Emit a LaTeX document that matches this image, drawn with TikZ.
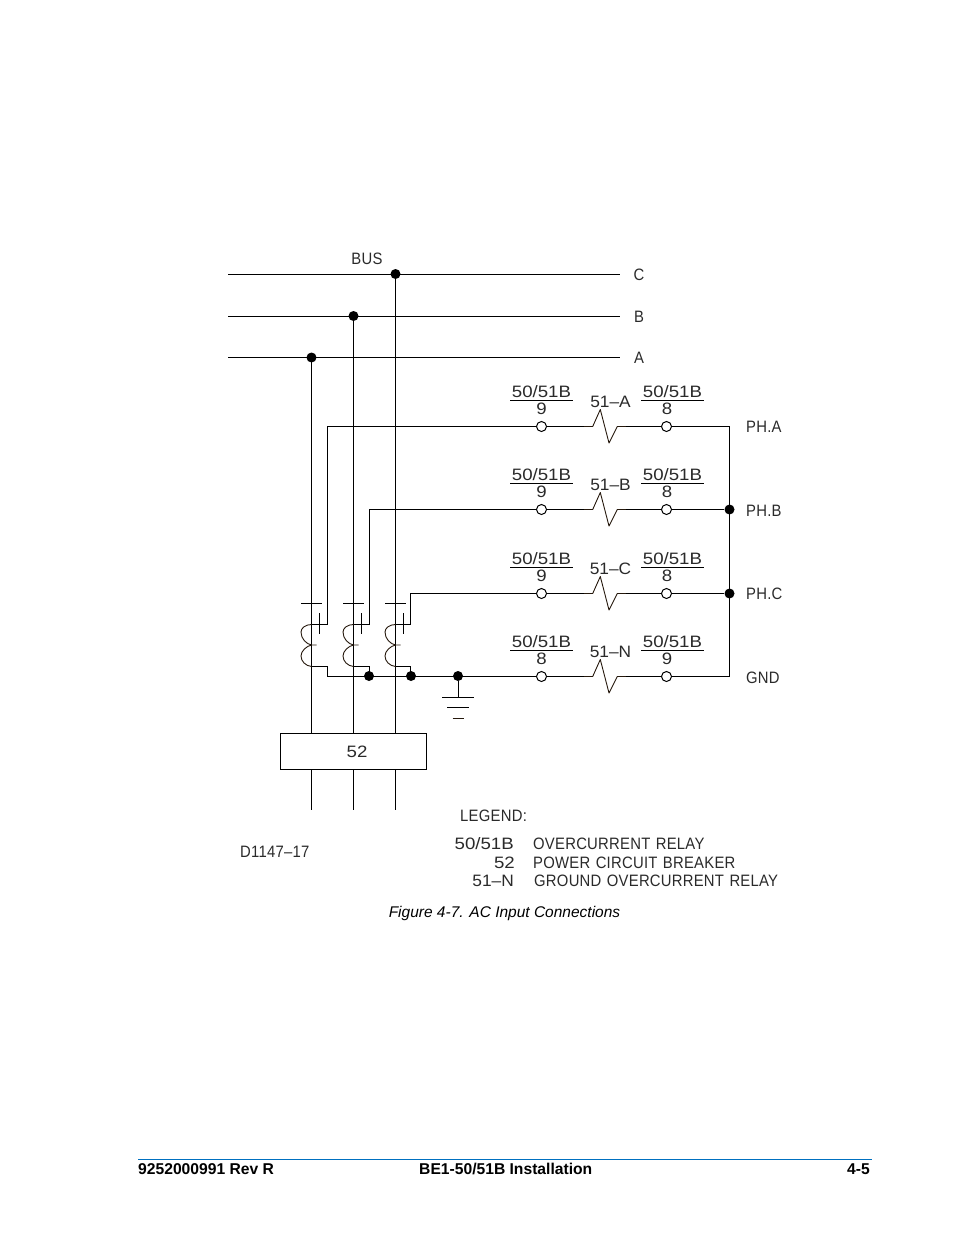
\documentclass[tikz,border=0pt]{standalone}
\usepackage{fontspec}
\setmainfont{Liberation Sans}
\newfontfamily\cadfont[FakeStretch=0.9,WordSpace=1.25,LetterSpace=1.5]{Liberation Sans}
\newfontfamily\cadnum[FakeStretch=1.13]{Liberation Sans}
\newfontfamily\cadmid[FakeStretch=1.05]{Liberation Sans}
\usetikzlibrary{calc}
\definecolor{footblue}{HTML}{0070C0}
\definecolor{cadtext}{HTML}{2A2A2A}
\tikzset{
  wire/.style={line width=1pt,black},
  coilline/.style={line width=0.9pt,color=black!80!brown,line join=round},
  dot/.style={circle,fill=black,inner sep=0pt,minimum size=10pt},
  term/.style={circle,draw=black,fill=white,line width=1pt,inner sep=0pt,minimum size=10pt},
  cad/.style={inner sep=0pt,anchor=base,text=cadtext,font=\cadfont\fontsize{16.5}{18}\selectfont},
  cadn/.style={cad,font=\cadnum\fontsize{16.5}{18}\selectfont},
  cadm/.style={cad,font=\cadmid\fontsize{16.5}{18}\selectfont},
  cadl/.style={cad,anchor=base west},
  cadr/.style={cadn,anchor=base east},
  foot/.style={inner sep=0pt,font=\bfseries\fontsize{15.65}{17}\selectfont},
}
\begin{document}
\begin{tikzpicture}[x=1pt,y=-1pt]
\useasboundingbox (0,0) rectangle (954,1235);
% buses
\coordinate (cL) at (228,274.5); \coordinate (cR) at (620,274.5);
\coordinate (bL) at (228,316.5); \coordinate (bR) at (620,316.5);
\coordinate (aL) at (228,357.5); \coordinate (aR) at (620,357.5);
\draw[wire] (cL)--(cR); \draw[wire] (bL)--(bR); \draw[wire] (aL)--(aR);
\node[dot] (dC) at (395.5,274) {};
\node[dot] (dB) at (353.5,316) {};
\node[dot] (dA) at (311.5,357.5) {};
\node[cad] (tBUS) at (367,264) {BUS};
\node[cad] (tC) at (639,280) {C};
\node[cad] (tB) at (639,322) {B};
\node[cad] (tA) at (639,363) {A};
% breaker
\node[draw=black,line width=1pt,minimum width=146pt,minimum height=36pt,inner sep=0pt] (brk) at (353.5,751.5) {};
\node[cadn] (t52) at (357,757) {52};
\foreach \n/\x in {A/311.5,B/353.5,C/395.5}{
  \coordinate (top\n) at (\x,733.5);
  \coordinate (bt\n) at (\x,769.5);
  \coordinate (end\n) at (\x,810);
  \draw[wire] (d\n.center)--(top\n);
  \draw[wire] (bt\n)--(end\n);
  % CT
  \coordinate (barL\n) at (\x-10.5,603.5);
  \coordinate (barR\n) at (\x+10.5,603.5);
  \draw[wire] (barL\n)--(barR\n);
  \coordinate (pT\n) at (\x+8,613);
  \coordinate (pB\n) at (\x+8,634);
  \draw[wire] (pT\n)--(pB\n);
  \coordinate (cT\n) at (\x,624.5);
  \coordinate (cM\n) at (\x,645);
  \coordinate (cB\n) at (\x,666.5);
  \coordinate (cTap\n) at (\x+5,645);
  \draw[coilline] (cT\n) .. controls (\x-6,624.5) and (\x-10.5,628) .. (\x-10.5,632)
     .. controls (\x-10.5,639) and (\x-5,644) .. (cM\n)--(cTap\n);
  \draw[coilline] (cM\n) .. controls (\x-5,646) and (\x-10.5,651) .. (\x-10.5,656)
     .. controls (\x-10.5,661) and (\x-6,666) .. (cB\n);
}
% rows
\foreach \n/\y/\a/\b/\lab in {1/426.5/9/8/A,2/509.5/9/8/B,3/593.5/9/8/C,4/676.5/8/9/N}{
  \node[term] (tL\n) at (541.5,\y) {};
  \node[term] (tR\n) at (666.5,\y) {};
  \coordinate (zA\n) at (584,\y);
  \coordinate (zB\n) at (592.7,\y);
  \coordinate (zC\n) at (600.3,\y-17);
  \coordinate (zD\n) at (609,\y+16.5);
  \coordinate (zE\n) at (617.3,\y);
  \coordinate (zF\n) at (626,\y);
  \draw[wire] (tL\n)--(zA\n);
  \draw[coilline] (zA\n)--(zB\n)--(zC\n)--(zD\n)--(zE\n)--(zF\n);
  \draw[wire] (zF\n)--(tR\n);
  \coordinate (fL\n) at (510,\y-26);
  \coordinate (fLe\n) at (573,\y-26);
  \coordinate (fR\n) at (641,\y-26);
  \coordinate (fRe\n) at (704,\y-26);
  \draw[wire] (fL\n)--(fLe\n);
  \draw[wire] (fR\n)--(fRe\n);
  \node[cadn] (lA\n) at (541.5,\y-29.5) {50/51B};
  \node[cadn] (lB\n) at (541.5,\y-12) {\a};
  \node[cadn] (rA\n) at (672.5,\y-29.5) {50/51B};
  \node[cadn] (rB\n) at (667,\y-12) {\b};
  \node[cadm] (rl\n) at (610.5,\y-19) {51–\lab};
}
% right common
\coordinate (rAc) at (729.5,426.5);
\coordinate (rGc) at (729.5,676.5);
\node[dot] (dPB) at (729.5,509.5) {};
\node[dot] (dPC) at (729.5,593.5) {};
\draw[wire] (tR1)--(rAc)--(rGc)--(tR4);
\draw[wire] (tR2)--(dPB);
\draw[wire] (tR3)--(dPC);
\node[cadl] (ph1) at (746,432) {PH.A};
\node[cadl] (ph2) at (746,516) {PH.B};
\node[cadl] (ph3) at (746,599) {PH.C};
\node[cadl] (ph4) at (746,683) {GND};
% secondary leads
\coordinate (s1a) at (327.5,426.5); \coordinate (s1b) at (327.5,624.5);
\coordinate (s2a) at (369.5,509.5); \coordinate (s2b) at (369.5,624.5);
\coordinate (s3a) at (410.5,593.5); \coordinate (s3b) at (410.5,624.5);
\draw[wire] (tL1)--(s1a)--(s1b)--(cTA);
\draw[wire] (tL2)--(s2a)--(s2b)--(cTB);
\draw[wire] (tL3)--(s3a)--(s3b)--(cTC);
% neutral
\node[dot] (dN1) at (369,676) {};
\node[dot] (dN2) at (411,676) {};
\node[dot] (dG) at (458,676) {};
\coordinate (nS) at (327.5,676.5);
\coordinate (nA) at (327.5,666.5);
\coordinate (nB) at (369.5,666.5);
\coordinate (nC) at (410.5,666.5);
\draw[wire] (cBA)--(nA)--(nS)--(tL4);
\draw[wire] (cBB)--(nB)--(nB|-dN1);
\draw[wire] (cBC)--(nC)--(nC|-dN2);
% ground
\coordinate (g0) at (458,697.5);
\coordinate (g1L) at (442,697.5); \coordinate (g1R) at (474,697.5);
\coordinate (g2L) at (447,707.5); \coordinate (g2R) at (469,707.5);
\coordinate (g3L) at (452.5,718.5); \coordinate (g3R) at (463.5,718.5);
\draw[wire] (dG)--(g0);
\draw[wire] (g1L)--(g1R);
\draw[wire] (g2L)--(g2R);
\draw[coilline] (g3L)--(g3R);
% legend
\node[cadl] (leg) at (460,821) {LEGEND:};
\node[cadl] (dwg) at (240,857) {D1147–17};
\node[cadr] (k1) at (514,849) {50/51B};
\node[cadr] (k2) at (515,868) {52};
\node[cadm,anchor=base east] (k3) at (514,886) {51–N};
\node[cadl] (v1) at (533,849) {OVERCURRENT RELAY};
\node[cadl] (v2) at (533,868) {POWER CIRCUIT BREAKER};
\node[cadl] (v3) at (534,886) {GROUND OVERCURRENT RELAY};
% caption
\node[inner sep=0pt,anchor=base,font=\itshape\fontsize{15.5}{18}\selectfont] (cap) at (504.5,917) {Figure 4-7. AC Input Connections};
% footer
\coordinate (fa) at (138,1159.5); \coordinate (fb) at (872,1159.5);
\draw[footblue,line width=1.2pt] (fa)--(fb);
\node[foot,anchor=base west] (f1) at (138,1174) {9252000991 Rev R};
\node[foot,anchor=base west] (f2) at (419,1174) {BE1-50/51B Installation};
\node[foot,anchor=base east] (f3) at (870,1174) {4-5};
\end{tikzpicture}
\end{document}
